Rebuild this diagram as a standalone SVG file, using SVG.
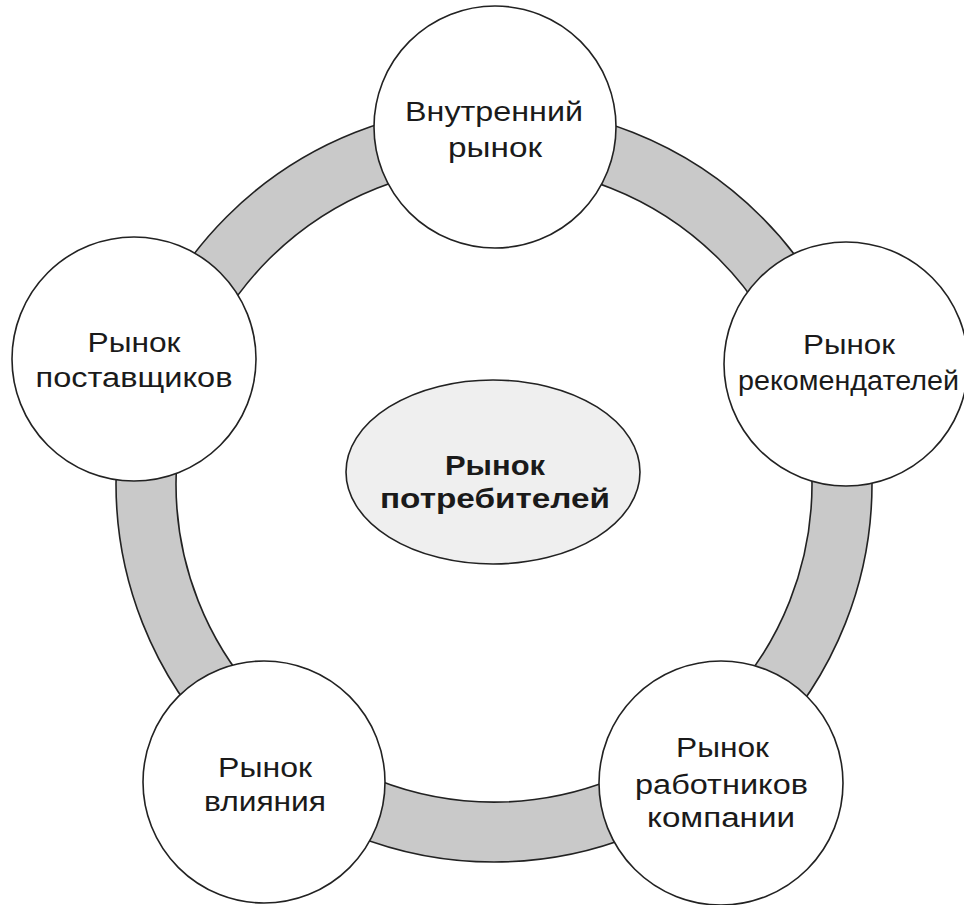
<svg xmlns="http://www.w3.org/2000/svg" width="964" height="905" viewBox="0 0 964 905">
  <style>
    .ring { fill: #c9c9c9; stroke: #222; stroke-width: 1.6; fill-rule: evenodd; }
    .node { fill: #ffffff; stroke: #222; stroke-width: 1.6; }
    .core { fill: #efefef; stroke: #222; stroke-width: 1.6; }
    .lbl { font-family: "Liberation Sans", Arial, sans-serif; font-size: 27px; fill: #1a1a1a; text-anchor: middle; }
    .bold { font-weight: bold; }
  </style>
  <rect width="964" height="905" fill="#ffffff"/>

  <!-- connecting ring (annulus) -->
  <g id="connectors">
    <path class="ring" d="M 116 484 A 378 378 0 1 0 872 484 A 378 378 0 1 0 116 484 Z M 176 484 A 318 318 0 1 0 812 484 A 318 318 0 1 0 176 484 Z"/>
  </g>

  <g id="node-internal">
    <circle class="node" cx="495" cy="127" r="121"/>
    <text class="lbl" x="494" y="121" textLength="178" lengthAdjust="spacingAndGlyphs">Внутренний</text>
    <text class="lbl" x="495" y="157" textLength="94" lengthAdjust="spacingAndGlyphs">рынок</text>
  </g>

  <g id="node-recommenders">
    <circle class="node" cx="846" cy="364" r="122"/>
    <text class="lbl" x="849" y="354" textLength="92" lengthAdjust="spacingAndGlyphs">Рынок</text>
    <text class="lbl" x="848.5" y="390" textLength="221" lengthAdjust="spacingAndGlyphs">рекомендателей</text>
  </g>

  <g id="node-employees">
    <circle class="node" cx="721" cy="783" r="122"/>
    <text class="lbl" x="722.5" y="757" textLength="93" lengthAdjust="spacingAndGlyphs">Рынок</text>
    <text class="lbl" x="721.5" y="794" textLength="173" lengthAdjust="spacingAndGlyphs">работников</text>
    <text class="lbl" x="721" y="827" textLength="148" lengthAdjust="spacingAndGlyphs">компании</text>
  </g>

  <g id="node-influence">
    <circle class="node" cx="264" cy="782" r="121"/>
    <text class="lbl" x="265" y="777" textLength="94" lengthAdjust="spacingAndGlyphs">Рынок</text>
    <text class="lbl" x="265" y="811" textLength="122" lengthAdjust="spacingAndGlyphs">влияния</text>
  </g>

  <g id="node-suppliers">
    <circle class="node" cx="134" cy="359" r="122"/>
    <text class="lbl" x="134" y="352" textLength="93" lengthAdjust="spacingAndGlyphs">Рынок</text>
    <text class="lbl" x="134" y="387" textLength="197" lengthAdjust="spacingAndGlyphs">поставщиков</text>
  </g>

  <g id="node-consumers">
    <ellipse class="core" cx="493" cy="472" rx="147" ry="92"/>
    <text class="lbl bold" x="495" y="475" textLength="100" lengthAdjust="spacingAndGlyphs">Рынок</text>
    <text class="lbl bold" x="495" y="508" textLength="230" lengthAdjust="spacingAndGlyphs">потребителей</text>
  </g>
</svg>
